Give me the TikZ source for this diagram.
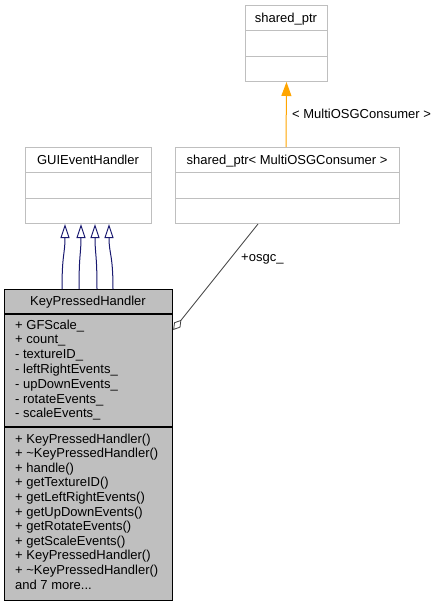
\documentclass[tikz,border=0pt]{standalone}
\usepackage{fontspec}
\setmainfont{Liberation Sans}
\usetikzlibrary{arrows.meta,calc}
\definecolor{boxgray}{HTML}{BFBFBF}
\definecolor{navyline}{HTML}{191970}
\definecolor{assoc}{HTML}{404040}
\definecolor{tmplorange}{HTML}{FFA500}
\begin{document}
\begin{tikzpicture}[x=1pt,y=-1pt,
  every node/.style={font=\fontsize{13}{14.8}\selectfont, inner sep=0pt},
  plainbox/.style={draw=boxgray, fill=white, line width=1pt, rectangle, anchor=north west},
  mainbox/.style={draw=black, fill=boxgray, line width=1.2pt, rectangle, anchor=north west},
  plaindiv/.style={draw=boxgray, line width=1pt},
  maindiv/.style={draw=black, line width=1.2pt},
  inh/.style={draw=navyline, line width=1pt, -{Triangle[open, length=14pt, width=9pt, fill=white]}},
  tmpl/.style={draw=tmplorange, line width=1pt, -{Triangle[length=14pt, width=10pt]}},
  assocline/.style={draw=assoc, line width=0.8pt, -{Diamond[open, length=13pt, width=8pt, fill=white]}},
  titletext/.style={anchor=base},
  linetext/.style={anchor=base west}]
\useasboundingbox (0,0) rectangle (437,605);
\fill[white] (0,0) rectangle (437,605);

% boxes
\node[plainbox, minimum width=82pt, minimum height=76pt] (sp) at (245,5) {};
\node[plainbox, minimum width=224pt, minimum height=76pt] (spm) at (175,147) {};
\node[plainbox, minimum width=126pt, minimum height=76pt] (gui) at (25,147) {};
\node[mainbox, minimum width=168pt, minimum height=311pt] (kph) at (4,289) {};

% dividers
\foreach \b in {sp,spm,gui}{
  \draw[plaindiv] ([yshift=-25.5pt]\b.north west) -- ([yshift=-25.5pt]\b.north east);
  \draw[plaindiv] ([yshift=-51pt]\b.north west) -- ([yshift=-51pt]\b.north east);
}
\draw[draw=black, line width=2pt] ([yshift=-24.5pt]kph.north west) -- ([yshift=-24.5pt]kph.north east);
\draw[maindiv] ([yshift=-138pt]kph.north west) -- ([yshift=-138pt]kph.north east);

% titles
\node[titletext] (sptitle) at (286,22) {shared\_ptr};
\node[titletext] (spmtitle) at (287,164) {shared\_ptr< MultiOSGConsumer >};
\node[titletext] (guititle) at (88,164) {GUIEventHandler};
\node[titletext] (kphtitle) at (88,305) {KeyPressedHandler};

% attributes
\foreach \t [count=\i from 0] in {{+ GFScale\_},{+ count\_},{- textureID\_},{- leftRightEvents\_},{- upDownEvents\_},{- rotateEvents\_},{- scaleEvents\_}}{
  \node[linetext] (attr\i) at (15,329+14.8*\i) {\t};
}
% methods
\foreach \t [count=\i from 0] in {{+ KeyPressedHandler()},{+ \textasciitilde KeyPressedHandler()},{+ handle()},{+ getTextureID()},{+ getLeftRightEvents()},{+ getUpDownEvents()},{+ getRotateEvents()},{+ getScaleEvents()},{+ KeyPressedHandler()},{+ \textasciitilde KeyPressedHandler()}}{
  \node[linetext] (meth\i) at (15,443+14.6*\i) {\t};
}
\node[linetext] (methmore) at (15,589) {and 7 more...};

% inheritance
\draw[inh] ([xshift=58pt]kph.north west) .. controls +(0,-35) and +(0,30) .. ([xshift=40pt]gui.south west);
\draw[inh] ([xshift=75pt]kph.north west) .. controls +(0,-35) and +(0,30) .. ([xshift=56pt]gui.south west);
\draw[inh] ([xshift=93pt]kph.north west) .. controls +(0,-35) and +(0,30) .. ([xshift=70pt]gui.south west);
\draw[inh] ([xshift=109pt]kph.north west) .. controls +(0,-35) and +(0,30) .. ([xshift=84pt]gui.south west);

% template instance
\draw[tmpl] ([xshift=111pt]spm.north west) -- (sp.south);
\node[linetext] (tlabel) at (292,118) {< MultiOSGConsumer >};

% association
\draw[assocline] ([xshift=83pt]spm.south west) -- ([yshift=-41pt]kph.north east);
\node[linetext] (alabel) at (241,261) {+osgc\_};
\end{tikzpicture}
\end{document}
